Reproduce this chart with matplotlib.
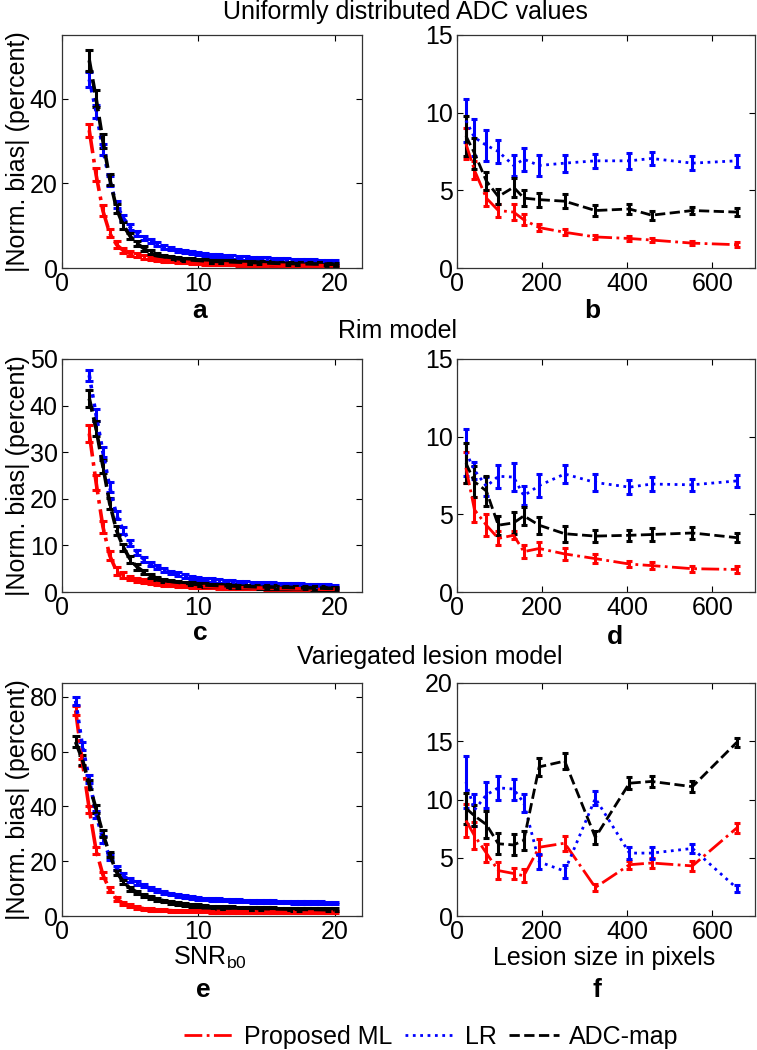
import numpy as np
import matplotlib
matplotlib.use("Agg")
import matplotlib.pyplot as plt
from matplotlib.lines import Line2D

plt.rcParams['font.family'] = ['Liberation Sans', 'DejaVu Sans']
plt.rcParams.update({'font.size': 18})
FS = 18
W, H = 757, 1050

# ---- SNR panels (a, c, e) ----
snr_ac = np.arange(2.0, 20.01, 0.5)
snr_e = np.arange(1.0, 20.01, 0.5)

# a: uniformly distributed ADC values
ml_a = [32.5, 22, 13.5, 8.2, 5.5, 4.1, 3.4, 3.0, 2.6, 2.3, 2.0, 1.8, 1.65, 1.5, 1.4, 1.3, 1.2, 1.1, 1.05,
        1.0, 0.95, 0.9, 0.85, 0.8, 0.8, 0.75, 0.7, 0.7, 0.65, 0.65, 0.6, 0.6, 0.6, 0.55, 0.55, 0.5, 0.5]
lr_a = [44.5, 37, 28, 20.5, 15, 11.8, 9.6, 8.2, 7.1, 6.3, 5.6, 5.0, 4.6, 4.2, 3.9, 3.6, 3.4, 3.2, 3.0,
        2.9, 2.75, 2.6, 2.5, 2.4, 2.3, 2.2, 2.1, 2.0, 1.95, 1.9, 1.8, 1.75, 1.7, 1.65, 1.6, 1.55, 1.5]
adc_a = [49, 40, 30, 21, 14, 10, 7.5, 5.8, 4.6, 3.7, 3.1, 2.7, 2.4, 2.2, 2.0, 1.9, 1.8, 1.7, 1.6,
         1.55, 1.5, 1.45, 1.4, 1.35, 1.3, 1.25, 1.2, 1.15, 1.1, 1.1, 1.05, 1.0, 1.0, 0.95, 0.95, 0.9, 0.9]
ml_a_err = [1.6, 1.5, 1.3, 1.0, 0.8, 0.6, 0.5, 0.45, 0.4, 0.35, 0.3] + [0.3] * 26
lr_a_err = [1.8, 1.5, 1.3, 1.1, 0.9, 0.8, 0.7, 0.6, 0.55, 0.5, 0.45] + [0.4] * 26
adc_a_err = [2.5, 2.0, 1.6, 1.3, 1.0, 0.8, 0.7, 0.6, 0.5, 0.45, 0.4] + [0.35] * 26

# c: rim model
ml_c = [34, 23.5, 14, 7.8, 4.5, 3.6, 3.0, 2.6, 2.3, 2.0, 1.8, 1.65, 1.5, 1.4, 1.3, 1.25, 1.2, 1.15, 1.1,
        1.05, 1.0, 0.95, 0.9, 0.9, 0.85, 0.85, 0.8, 0.8, 0.75, 0.75, 0.7, 0.7, 0.65, 0.65, 0.6, 0.6, 0.6]
lr_c = [46.5, 38, 30, 22.5, 16.5, 13.2, 10.5, 8.5, 7.0, 6.0, 5.3, 4.7, 4.2, 3.8, 3.4, 3.1, 2.9, 2.7, 2.55,
        2.4, 2.25, 2.15, 2.05, 1.95, 1.85, 1.8, 1.7, 1.65, 1.6, 1.55, 1.5, 1.45, 1.4, 1.35, 1.3, 1.25, 1.2]
adc_c = [41.5, 35, 27, 19, 13.2, 9.6, 7.0, 5.4, 4.3, 3.5, 2.9, 2.5, 2.3, 2.1, 1.9, 1.75, 1.6, 1.5, 1.45,
         1.4, 1.35, 1.3, 1.25, 1.2, 1.15, 1.1, 1.1, 1.05, 1.0, 1.0, 0.95, 0.9, 0.9, 0.85, 0.85, 0.8, 0.8]
ml_c_err = [1.8, 1.6, 1.3, 1.0, 0.8, 0.6, 0.5, 0.45, 0.4, 0.35, 0.3] + [0.3] * 26
lr_c_err = [1.2, 1.2, 1.1, 1.0, 0.9, 0.8, 0.7, 0.6, 0.55, 0.5, 0.45] + [0.4] * 26
adc_c_err = [1.8, 1.6, 1.4, 1.2, 1.0, 0.8, 0.7, 0.6, 0.5, 0.45, 0.4] + [0.35] * 26

# e: variegated lesion model
ml_e = [75, 56, 39, 24, 15, 9.5, 6.2, 4.6, 3.7, 3.1, 2.7, 2.4, 2.2, 2.05, 1.95, 1.85, 1.8, 1.75, 1.7, 1.7,
        1.65, 1.65, 1.6, 1.6, 1.6, 1.55, 1.55, 1.55, 1.5, 1.5, 1.5, 1.5, 1.45, 1.45, 1.45, 1.45, 1.4, 1.4, 1.4]
lr_e = [78.5, 62, 50, 37, 28, 21.5, 17.5, 15, 13.2, 12, 11, 10.1, 9.3, 8.6, 8.0, 7.5, 7.1, 6.7, 6.4, 6.2,
        6.0, 5.9, 5.8, 5.7, 5.6, 5.5, 5.4, 5.35, 5.3, 5.2, 5.15, 5.1, 5.0, 4.95, 4.9, 4.85, 4.8, 4.75, 4.7]
adc_e = [63.5, 57, 48, 39, 30, 22.5, 16, 12.5, 10, 8.7, 7.6, 6.8, 6.1, 5.5, 5.0, 4.6, 4.2, 3.9, 3.7, 3.5,
         3.3, 3.2, 3.1, 3.0, 2.9, 2.85, 2.8, 2.75, 2.7, 2.65, 2.6, 2.55, 2.5, 2.45, 2.4, 2.4, 2.35, 2.3, 2.3]
ml_e_err = [1.5, 1.4, 1.3, 1.2, 1.0, 0.9, 0.8, 0.6, 0.5, 0.5] + [0.4] * 29
lr_e_err = [1.5, 1.5, 1.4, 1.3, 1.2, 1.0, 0.9, 0.8, 0.7, 0.6] + [0.5] * 29
adc_e_err = [2.0, 1.8, 1.6, 1.4, 1.2, 1.0, 0.9, 0.8, 0.7, 0.6] + [0.5] * 29

# ---- lesion size panels (b, d, f) ----
lesion = [21, 41, 69, 97, 133, 157, 193, 253, 325, 405, 457, 553, 657]

ml_b = [8.0, 6.3, 4.5, 3.7, 3.6, 3.1, 2.6, 2.3, 2.0, 1.9, 1.8, 1.6, 1.5]
lr_b = [9.5, 8.4, 7.9, 7.5, 6.6, 7.0, 6.6, 6.75, 6.9, 6.9, 7.05, 6.75, 6.9]
adc_b = [8.5, 7.4, 5.6, 4.6, 5.2, 4.5, 4.4, 4.3, 3.7, 3.8, 3.4, 3.7, 3.6]
ml_b_err = [1.0, 0.6, 0.5, 0.4, 0.5, 0.35, 0.25, 0.2, 0.15, 0.15, 0.15, 0.15, 0.15]
lr_b_err = [1.4, 1.2, 1.0, 0.75, 0.7, 0.75, 0.7, 0.55, 0.45, 0.5, 0.45, 0.45, 0.4]
adc_b_err = [1.3, 1.0, 0.6, 0.5, 0.6, 0.5, 0.45, 0.45, 0.35, 0.3, 0.3, 0.25, 0.25]

ml_d = [8.0, 5.3, 4.3, 3.45, 3.65, 2.6, 2.8, 2.45, 2.15, 1.8, 1.7, 1.5, 1.45]
lr_d = [9.0, 7.85, 6.8, 7.45, 7.4, 6.2, 6.85, 7.6, 7.05, 6.75, 6.95, 6.9, 7.15]
adc_d = [8.3, 7.1, 6.5, 4.3, 4.45, 4.9, 4.3, 3.75, 3.6, 3.65, 3.7, 3.8, 3.5]
ml_d_err = [1.0, 0.8, 0.7, 0.45, 0.25, 0.4, 0.4, 0.4, 0.3, 0.2, 0.2, 0.2, 0.25]
lr_d_err = [1.5, 0.55, 0.6, 0.75, 0.9, 0.6, 0.75, 0.6, 0.55, 0.45, 0.45, 0.4, 0.4]
adc_d_err = [1.3, 1.0, 0.95, 0.6, 0.7, 0.6, 0.55, 0.5, 0.4, 0.35, 0.4, 0.4, 0.3]

ml_f = [8.2, 6.9, 5.4, 3.9, 3.65, 3.45, 5.9, 6.25, 2.45, 4.4, 4.55, 4.3, 7.55]
lr_f = [11.5, 9.1, 10.4, 11.0, 10.9, 9.7, 4.65, 3.85, 10.1, 5.4, 5.4, 5.8, 2.4]
adc_f = [9.25, 8.6, 7.85, 6.2, 6.1, 6.5, 12.8, 13.3, 6.75, 11.4, 11.55, 11.1, 14.9]
ml_f_err = [1.4, 1.15, 0.8, 0.7, 0.5, 0.55, 0.7, 0.65, 0.3, 0.35, 0.4, 0.45, 0.4]
lr_f_err = [2.2, 1.4, 1.1, 1.0, 0.9, 0.8, 0.65, 0.55, 0.6, 0.5, 0.5, 0.4, 0.3]
adc_f_err = [1.35, 0.9, 1.15, 0.9, 0.9, 0.8, 0.8, 0.7, 0.55, 0.5, 0.45, 0.45, 0.4]

labels = ['Proposed ML', 'LR', 'ADC-map']
colors = ['#ff0000', '#0000ff', '#000000']
styles = ['-.', ':', '--']


def draw(ax, x, series, errs, lw, cap):
    for y, e, c, ls in zip(series, errs, colors, styles):
        ax.errorbar(x, y, yerr=e, color=c, linestyle=ls, linewidth=lw,
                    elinewidth=2.2, capsize=cap, capthick=2.2)


def style(ax, xlim, ylim, yticks, xticks):
    ax.set_xlim(*xlim)
    ax.set_ylim(*ylim)
    ax.set_yticks(yticks)
    ax.set_xticks(xticks)
    ax.tick_params(direction='in', top=True, right=True, length=4, labelsize=FS, pad=3)
    for s in ax.spines.values():
        s.set_color('#333333')
        s.set_linewidth(0.9)


def ftext(px, py, s, **kw):
    # place text by pixel position measured from the top-left corner
    fig.text(px / W, 1 - py / H, s, ha='center', va='center', **kw)


fig = plt.figure(figsize=(W / 100, H / 100), dpi=100)
lx, rx = 62 / W, 457 / W
wl, wr = 300 / W, 298 / W
rows = [(1 - 268 / H), (1 - 592 / H), (1 - 916 / H)]
h = 233 / H

axa = fig.add_axes([lx, rows[0], wl, h])
axb = fig.add_axes([rx, rows[0], wr, h])
axc = fig.add_axes([lx, rows[1], wl, h])
axd = fig.add_axes([rx, rows[1], wr, h])
axe = fig.add_axes([lx, rows[2], wl, h])
axf = fig.add_axes([rx, rows[2], wr, h])

draw(axa, snr_ac, [ml_a, lr_a, adc_a], [ml_a_err, lr_a_err, adc_a_err], 2.6, 3)
draw(axc, snr_ac, [ml_c, lr_c, adc_c], [ml_c_err, lr_c_err, adc_c_err], 2.6, 3)
draw(axe, snr_e, [ml_e, lr_e, adc_e], [ml_e_err, lr_e_err, adc_e_err], 2.6, 3)
draw(axb, lesion, [ml_b, lr_b, adc_b], [ml_b_err, lr_b_err, adc_b_err], 2, 2.5)
draw(axd, lesion, [ml_d, lr_d, adc_d], [ml_d_err, lr_d_err, adc_d_err], 2, 2.5)
draw(axf, lesion, [ml_f, lr_f, adc_f], [ml_f_err, lr_f_err, adc_f_err], 2, 2.5)

style(axa, (0, 22), (0, 55), [0, 20, 40], [0, 10, 20])
style(axc, (0, 22), (0, 50), [0, 10, 20, 30, 40, 50], [0, 10, 20])
style(axe, (0, 22), (0, 85), [0, 20, 40, 60, 80], [0, 10, 20])
style(axb, (0, 700), (0, 15), [0, 5, 10, 15], [0, 200, 400, 600])
style(axd, (0, 700), (0, 15), [0, 5, 10, 15], [0, 200, 400, 600])
style(axf, (0, 700), (0, 20), [0, 5, 10, 15, 20], [0, 200, 400, 600])

for ax in (axa, axc, axe):
    ax.set_ylabel('|Norm. bias| (percent)', fontsize=FS, labelpad=0)

# panel letters and bottom x labels
ftext(200, 311, 'a', fontsize=19, fontweight='bold')
ftext(592, 311, 'b', fontsize=19, fontweight='bold')
ftext(200, 633, 'c', fontsize=19, fontweight='bold')
ftext(615, 637, 'd', fontsize=19, fontweight='bold')
ftext(203, 990, 'e', fontsize=19, fontweight='bold')
ftext(597, 990, 'f', fontsize=19, fontweight='bold')
ftext(210, 958, 'SNR$_{\\mathregular{b0}}$', fontsize=FS)
ftext(604, 958, 'Lesion size in pixels', fontsize=FS)

ftext(405, 12, 'Uniformly distributed ADC values', fontsize=FS)
ftext(398, 331, 'Rim model', fontsize=FS)
ftext(430, 657, 'Variegated lesion model', fontsize=FS)

handles = [Line2D([], [], color=c, linestyle=ls, linewidth=2) for c, ls in zip(colors, styles)]
fig.legend(handles, labels, loc='center', bbox_to_anchor=(431 / W, 1 - 1037 / H), ncol=3,
           frameon=False, fontsize=FS, handlelength=2.0, handletextpad=0.4, columnspacing=0.5)

fig.savefig('out.png', dpi=100)
